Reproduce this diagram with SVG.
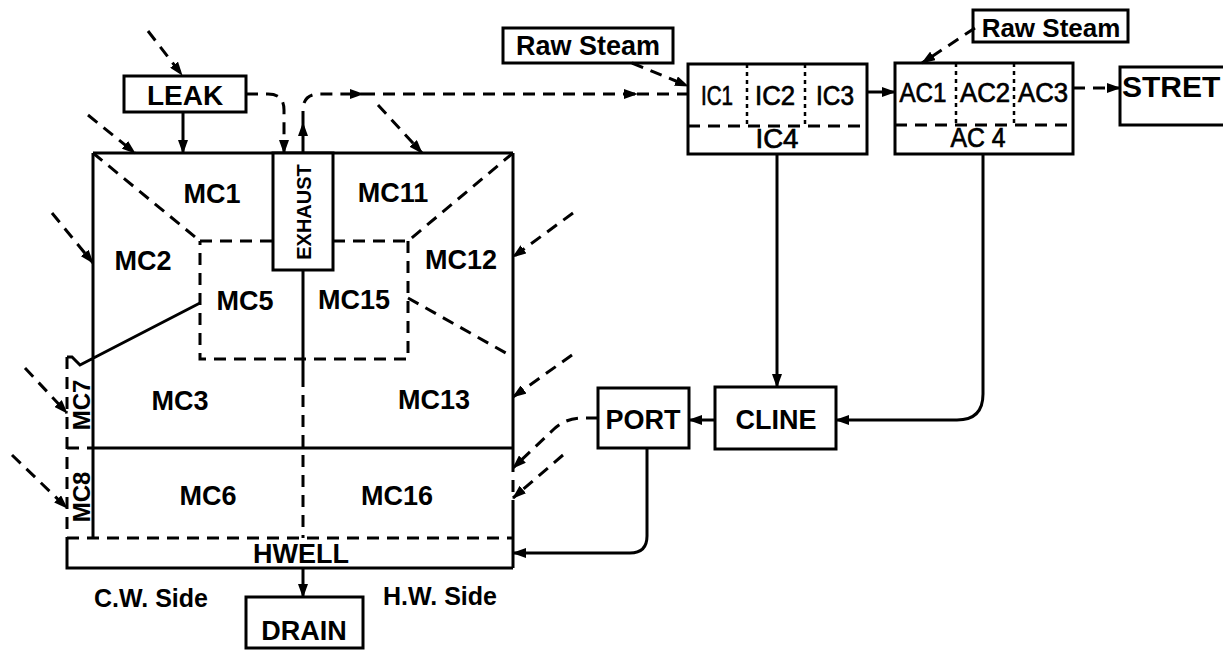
<svg xmlns="http://www.w3.org/2000/svg" width="1223" height="658" viewBox="0 0 1223 658">
<style>
.s{stroke:#000;stroke-width:3;fill:none;stroke-linecap:butt;stroke-linejoin:miter}
.d{stroke-dasharray:12 8}
.dt{stroke-dasharray:4 4;stroke-width:2.5}
.b{fill:#fff;stroke:#000;stroke-width:3}
.t{font-family:"Liberation Sans",Arial,sans-serif;font-weight:bold;fill:#000;text-anchor:middle}
.r{font-family:"Liberation Sans",Arial,sans-serif;font-weight:normal;fill:#000;stroke:#000;stroke-width:0.7;text-anchor:middle}
</style>
<defs>
<marker id="a" markerUnits="userSpaceOnUse" markerWidth="14" markerHeight="10" refX="13" refY="5" orient="auto">
<path d="M0,0 L14,5 L0,10 z" fill="#000"/>
</marker>
</defs>
<rect width="1223" height="658" fill="#fff"/>

<g id="condenser">
<path class="s" d="M93,153 H513 M93,153 V538 M513,153 V460 M513,510 V568 M93,448 H513 M67,538 V568 H513 M67,357 H72 L80,365 L200,303 M303,270 V375"/>
<path class="s d" d="M513,460 V510 M67,538 H513 M67,357 V538 M67,448 H93 M93,153 L200,241 M200,241 H273 M333,241 H408 M513,153 L408,241 M408,241 V359 H200 V241 M408,298 L513,357 M303,375 V538"/>
<rect class="b" x="273" y="153" width="60" height="117"/>
<text class="t" font-size="20" transform="translate(311,212) rotate(-90)">EXHAUST</text>
<text class="t" font-size="27" x="212" y="203">MC1</text>
<text class="t" font-size="27" x="393" y="202">MC11</text>
<text class="t" font-size="27" x="143" y="270">MC2</text>
<text class="t" font-size="27" x="461" y="269">MC12</text>
<text class="t" font-size="27" x="245" y="310">MC5</text>
<text class="t" font-size="27" x="354" y="309">MC15</text>
<text class="t" font-size="27" x="180" y="410">MC3</text>
<text class="t" font-size="27" x="434" y="409">MC13</text>
<text class="t" font-size="27" x="208" y="505">MC6</text>
<text class="t" font-size="27" x="397" y="505">MC16</text>
<text class="t" font-size="24" transform="translate(90,405) rotate(-90)">MC7</text>
<text class="t" font-size="24" transform="translate(90,497) rotate(-90)">MC8</text>
<text class="t" font-size="27" x="301" y="563">HWELL</text>
<text class="t" font-size="25" x="151" y="607">C.W. Side</text>
<text class="t" font-size="25" x="440" y="605">H.W. Side</text>
</g>

<g id="leak">
<rect class="b" x="124" y="76" width="122" height="36"/>
<text class="t" font-size="28" x="185" y="105">LEAK</text>
</g>

<g id="drain">
<rect class="b" x="246" y="597" width="117" height="51"/>
<text class="t" font-size="27" x="304" y="640">DRAIN</text>
</g>

<g id="rawsteam1">
<rect class="b" x="503" y="28" width="170" height="35"/>
<text class="t" font-size="27" x="588" y="55">Raw Steam</text>
</g>

<g id="rawsteam2">
<rect class="b" x="973" y="10" width="155" height="32"/>
<text class="t" font-size="26" x="1051" y="37">Raw Steam</text>
</g>

<g id="ic">
<rect class="b" x="688" y="64" width="179" height="90"/>
<path class="s d" d="M688,126 H867"/>
<path class="s dt" d="M747,64 V126 M805,64 V126"/>
<text class="r" font-size="27" x="717" y="105" textLength="32" lengthAdjust="spacingAndGlyphs">IC1</text>
<text class="r" font-size="27" x="775" y="105" textLength="40" lengthAdjust="spacingAndGlyphs">IC2</text>
<text class="r" font-size="27" x="835" y="105" textLength="38" lengthAdjust="spacingAndGlyphs">IC3</text>
<text class="r" font-size="27" x="777" y="148" textLength="43" lengthAdjust="spacingAndGlyphs">IC4</text>
</g>

<g id="ac">
<rect class="b" x="895" y="63" width="178" height="91"/>
<path class="s d" d="M895,125 H1073"/>
<path class="s dt" d="M956,63 V125 M1014,63 V125"/>
<text class="r" font-size="27" x="923" y="102" textLength="47" lengthAdjust="spacingAndGlyphs">AC1</text>
<text class="r" font-size="27" x="985" y="102" textLength="50" lengthAdjust="spacingAndGlyphs">AC2</text>
<text class="r" font-size="27" x="1043" y="102" textLength="50" lengthAdjust="spacingAndGlyphs">AC3</text>
<text class="r" font-size="27" x="978" y="147" textLength="55" lengthAdjust="spacingAndGlyphs">AC 4</text>
</g>

<g id="stret">
<rect class="b" x="1120" y="67" width="110" height="58"/>
<text class="t" font-size="30" x="1122" y="97" style="text-anchor:start">STRET</text>
</g>

<g id="port">
<rect class="b" x="598" y="388" width="91" height="60"/>
<text class="t" font-size="27" x="643" y="429">PORT</text>
</g>

<g id="cline">
<rect class="b" x="715" y="387" width="121" height="62"/>
<text class="t" font-size="27" x="776" y="429">CLINE</text>
</g>

<g id="connectors">
<path class="s d" marker-end="url(#a)" d="M148,31 L182,75"/>
<path class="s" marker-end="url(#a)" d="M183,112 V153"/>
<path class="s d" marker-end="url(#a)" d="M246,94 H268 Q284,94 284,110 V153"/>
<path class="s" marker-end="url(#a)" d="M303,153 V123"/>
<path class="s d" marker-end="url(#a)" d="M303,123 V110 Q303,94 320,94 H363"/>
<path class="s d" marker-end="url(#a)" d="M363,94 H637"/>
<path class="s d" d="M637,94 H688"/>
<path class="s d" marker-end="url(#a)" d="M88,115 L135,153"/>
<path class="s d" marker-end="url(#a)" d="M378,105 L422,153"/>
<path class="s d" marker-end="url(#a)" d="M52,213 L93,263"/>
<path class="s d" marker-end="url(#a)" d="M25,368 L67,413"/>
<path class="s d" marker-end="url(#a)" d="M12,455 L67,508"/>
<path class="s d" marker-end="url(#a)" d="M573,213 L513,257"/>
<path class="s d" marker-end="url(#a)" d="M572,355 L513,397"/>
<path class="s d" marker-end="url(#a)" d="M598,418 H582 Q566,418 554,429 L513,468"/>
<path class="s d" marker-end="url(#a)" d="M563,455 L513,498"/>
<path class="s" marker-end="url(#a)" d="M647,448 V536 Q647,553 630,553 H513"/>
<path class="s" marker-end="url(#a)" d="M715,420 H689"/>
<path class="s" marker-end="url(#a)" d="M777,154 V387"/>
<path class="s" marker-end="url(#a)" d="M983,154 V394 Q983,420 957,420 H836"/>
<path class="s" marker-end="url(#a)" d="M867,92 H895"/>
<path class="s d" marker-end="url(#a)" d="M1073,88 H1120"/>
<path class="s d" marker-end="url(#a)" d="M632,63 L688,86"/>
<path class="s d" marker-end="url(#a)" d="M975,28 L922,63"/>
<path class="s" marker-end="url(#a)" d="M303,568 V597"/>
</g>
</svg>
